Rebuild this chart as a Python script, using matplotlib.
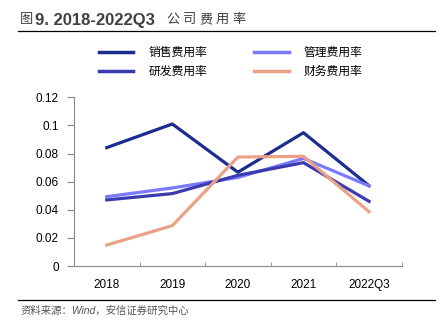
import matplotlib
matplotlib.use('Agg')
import matplotlib.pyplot as plt
from matplotlib.lines import Line2D

plt.rcParams['font.family'] = ['Liberation Sans', 'Noto Sans CJK SC', 'DejaVu Sans']

# data
years = ['2018', '2019', '2020', '2021', '2022Q3']
sales = [0.0842, 0.101, 0.0667, 0.0948, 0.0571]
admin = [0.0493, 0.0555, 0.063, 0.0765, 0.057]
rnd = [0.047, 0.0515, 0.0645, 0.0735, 0.046]
fin = [0.0149, 0.0287, 0.0775, 0.078, 0.0386]

names = ['销售费用率', '研发费用率', '管理费用率', '财务费用率']
colors = ['#1c2d8f', '#3b3bb0', '#7a7aff', '#eaa286']

W, H = 448, 327
fig = plt.figure(figsize=(W / 100, H / 100), dpi=100)
ax = fig.add_axes([0.165, 0.1865, 0.732, 0.516])

x = range(len(years))
l1, = ax.plot(x, sales, color=colors[0], lw=2.3)
l3, = ax.plot(x, admin, color=colors[2], lw=2.3)
l2, = ax.plot(x, rnd, color=colors[1], lw=2.3)
l4, = ax.plot(x, fin, color=colors[3], lw=2.3)

ax.set_xlim(-0.5, len(years) - 0.5)
ax.set_ylim(0, 0.12)
ax.set_yticks([0, 0.02, 0.04, 0.06, 0.08, 0.1, 0.12])
ax.set_yticklabels(['0', '0.02', '0.04', '0.06', '0.08', '0.1', '0.12'])
ax.set_xticks(list(x))
ax.set_xticklabels(years)
ax.set_xticks([i - 0.5 for i in range(len(years) + 1)], minor=True)
ax.tick_params(axis='x', which='major', length=0, pad=9, labelsize=8.5)
ax.tick_params(axis='x', which='minor', direction='in', length=3, color='#888888')
ax.tick_params(axis='y', length=5, color='#888888', labelsize=8.5, pad=6)
for s in ['top', 'right']:
    ax.spines[s].set_visible(False)
for s in ['left', 'bottom']:
    ax.spines[s].set_color('#888888')
    ax.spines[s].set_linewidth(0.8)

leg = fig.legend([l1, l2, l3, l4], names, ncol=2, loc='center',
                 bbox_to_anchor=(0.515, 1 - 62.5 / H), bbox_transform=fig.transFigure,
                 frameon=False, fontsize=8.5, handlelength=2.9, handletextpad=1.3,
                 columnspacing=4.0, labelspacing=0.55)
for h in leg.legend_handles:
    h.set_linewidth(2.5)

# title: 图 normal, number bold, Chinese words spaced out
ty = 1 - 20 / H
tcol = '#404040'
fig.text(20 / W, ty, '图', fontsize=9.5, color=tcol, va='center', ha='left')
fig.text(35 / W, ty, '9. 2018-2022Q3', fontsize=12, fontweight='bold', color=tcol,
         va='center', ha='left')
for i, ch in enumerate('公司费用率'):
    fig.text((166 + i * 16.5) / W, ty, ch, fontsize=9.5, color=tcol,
             va='center', ha='left')

fig.add_artist(Line2D([0.04, 0.972], [1 - 30.7 / H] * 2, color='black', lw=0.9))
fig.add_artist(Line2D([0.04, 0.972], [1 - 300 / H] * 2, color='black', lw=0.9))
fig.text(0.045, 1 - 311 / H, '资料来源：Wind，安信证券研究中心', fontsize=7.5, fontstyle='italic',
         color='#555555', va='center', ha='left')

fig.savefig('out.png', dpi=100)
